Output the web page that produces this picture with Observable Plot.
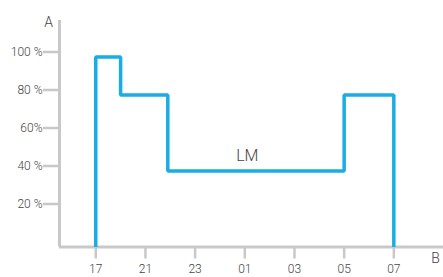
<!DOCTYPE html>
<html>
<head>
<meta charset="utf-8">
<script src="https://cdn.jsdelivr.net/npm/d3@7"></script>
<script src="https://cdn.jsdelivr.net/npm/@observablehq/plot@0.6"></script>
<style>
  html, body { margin: 0; padding: 0; background: #fff; }
  #chart svg { display: block; font-family: Roboto, "Liberation Sans", sans-serif; font-weight: 300; }
</style>
</head>
<body>
<div id="chart"></div>
<script>
// Category labels on the x axis (evenly spaced slots)
const xTickLabels = ["17", "21", "23", "01", "03", "05", "07"];
const xTickSlots = [0, 1, 2, 3, 4, 5, 6];

// Y axis ticks
const yTicks = [20, 40, 60, 80, 100];
const yTickLabels = ["20 %", "40 %", "60%", "80 %", "100 %"];

// Step profile (x in slot units, y in percent)
const lineX = [0, 0, 0.5, 0.5, 1.45, 1.45, 5, 5, 6, 6];
const lineY = [0, 100, 100, 80, 80, 40, 40, 80, 80, 0];

// Annotation
const seriesLabel = "LM";
const seriesLabelX = 3.05;
const seriesLabelY = 48;

const xMin = -0.73, xMax = 7.0;
const yMax = 119.2;

const gray = "#c8c8c8";
const blue = "#19ade6";
const textColor = "#444";

const pts = lineX.map((x, i) => ({x, y: lineY[i]}));

const chart = Plot.plot({
  width: 443,
  height: 277,
  marginLeft: 59,
  marginRight: 0,
  marginTop: 20,
  marginBottom: 30.5,
  style: {background: "#fff", color: textColor},
  x: {domain: [xMin, xMax], axis: null},
  y: {domain: [0, yMax], axis: null},
  marks: [
    Plot.axisY({
      ticks: yTicks,
      tickFormat: (d) => yTickLabels[yTicks.indexOf(d)],
      tickSize: 16,
      tickPadding: 1,
      dy: -5,
      stroke: gray,
      strokeWidth: 2.5,
      fill: textColor,
      fontSize: 12,
      fontWeight: 300,
      label: null
    }),
    Plot.axisX({
      ticks: xTickSlots,
      tickFormat: (d) => xTickLabels[xTickSlots.indexOf(d)],
      tickSize: 12,
      tickPadding: 5,
      stroke: gray,
      strokeWidth: 2.5,
      fill: textColor,
      fontSize: 12,
      fontWeight: 300,
      label: null
    }),
    Plot.ruleY([0], {stroke: gray, strokeWidth: 3}),
    Plot.ruleX([xMin], {y1: 0, y2: yMax, stroke: gray, strokeWidth: 3}),
    Plot.line(pts, {x: "x", y: "y", stroke: blue, strokeWidth: 3.5, strokeLinejoin: "miter", strokeLinecap: "butt"}),
    Plot.text([seriesLabel], {x: seriesLabelX, y: seriesLabelY, text: d => d, fontSize: 16, fontWeight: 300, fill: textColor}),
    Plot.text(["A"], {frameAnchor: "top-left", textAnchor: "middle", lineAnchor: "middle", dx: -11, dy: 2, text: d => d, fontSize: 14, fontWeight: 300, fill: textColor}),
    Plot.text(["B"], {frameAnchor: "bottom-right", textAnchor: "middle", lineAnchor: "middle", dx: -8, dy: 12, text: d => d, fontSize: 14, fontWeight: 300, fill: textColor})
  ]
});
document.getElementById("chart").appendChild(chart);
</script>
</body>
</html>
